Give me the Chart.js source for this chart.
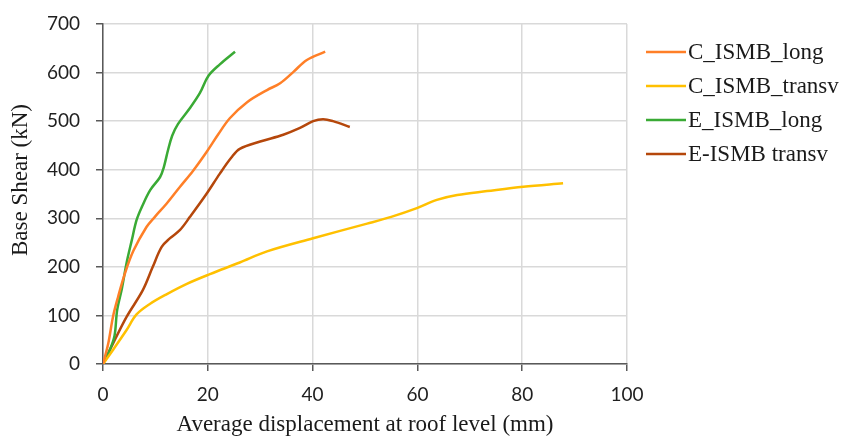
<!DOCTYPE html>
<html>
<head>
<meta charset="utf-8">
<script src="https://cdn.jsdelivr.net/npm/chart.js@4/dist/chart.umd.min.js"></script>
<style>
  html, body { margin: 0; padding: 0; background: #fff; }
  #wrap { width: 843px; height: 439px; position: relative; }
</style>
</head>
<body>
<div id="wrap"><canvas id="c" width="843" height="439"></canvas></div>
<script>
// Series labels
const seriesNames = ['C_ISMB_long', 'C_ISMB_transv', 'E_ISMB_long', 'E-ISMB transv'];

// C_ISMB_long: displacement (mm) and base shear (kN)
const cLongX = [0, 1, 1.9, 2.9, 4.2, 5.8, 8.3, 9.9, 12.2, 14.7, 17.2, 19.8, 22, 24.2, 27.5, 31.3, 33.8, 36.3, 38.9, 42.4];
const cLongY = [0, 42, 97, 139, 187, 233, 282, 303, 331, 365, 398, 437, 473, 506, 539, 564, 578, 601, 626, 643];

// C_ISMB_transv
const cTrX = [0, 1.9, 4.5, 6.4, 9, 12.2, 16, 20.4, 26.1, 31.3, 40.1, 50.4, 55, 59.9, 63.7, 67.6, 73.3, 80.2, 87.8];
const cTrY = [0, 29, 70, 102, 124, 144, 165, 185, 209, 232, 259, 289, 303, 321, 338, 348, 356, 365, 372];

// E_ISMB_long
const eLongX = [0, 1.3, 2.2, 2.7, 3.6, 4.5, 5.5, 6.4, 7.4, 9, 10.9, 11.6, 12.4, 13.2, 14.3, 16.6, 18.5, 20.1, 22.3, 25.2];
const eLongY = [0, 29, 58, 111, 155, 208, 255, 296, 323, 358, 385, 405, 440, 470, 494, 527, 558, 593, 617, 643];

// E-ISMB transv
const eTrX = [0, 1.9, 4.5, 7.6, 9.5, 11.2, 12.8, 14.7, 16.6, 19.8, 22.3, 24.5, 26.1, 30, 34.4, 37.6, 40.1, 42, 43.9, 47.1];
const eTrY = [0, 42, 97, 152, 200, 241, 259, 276, 303, 351, 392, 425, 443, 458, 472, 486, 500, 504, 500, 488];

// Axis ticks
const xTicks = [0, 20, 40, 60, 80, 100];
const yTicks = [0, 100, 200, 300, 400, 500, 600, 700];

const colors = ['#FF7F27', '#FFC000', '#3AAA35', '#B5470B'];
const serif = '"Liberation Serif", "Times New Roman", serif';

function pts(xs, ys) { return xs.map((x, i) => ({ x: x, y: ys[i] })); }
const seriesData = [pts(cLongX, cLongY), pts(cTrX, cTrY), pts(eLongX, eLongY), pts(eTrX, eTrY)];

const extrasPlugin = {
  id: 'extras',
  afterDraw(chart) {
    const ctx = chart.ctx;
    ctx.save();
    // legend
    chart.data.datasets.forEach((ds, i) => {
      const y = 52 + i * 34;
      ctx.strokeStyle = ds.borderColor;
      ctx.lineWidth = 2.5;
      ctx.beginPath();
      ctx.moveTo(646, y);
      ctx.lineTo(686, y);
      ctx.stroke();
      ctx.fillStyle = '#1a1a1a';
      ctx.font = '23px ' + serif;
      ctx.textBaseline = 'middle';
      ctx.textAlign = 'left';
      ctx.fillText(ds.label, 688, y + 1);
    });
    // y axis title
    ctx.translate(21, 180);
    ctx.rotate(-Math.PI / 2);
    ctx.font = '23px ' + serif;
    ctx.fillStyle = '#1a1a1a';
    ctx.textAlign = 'center';
    ctx.textBaseline = 'middle';
    ctx.fillText('Base Shear (kN)', 0, 0);
    ctx.restore();
  }
};

new Chart(document.getElementById('c'), {
  type: 'scatter',
  data: {
    datasets: seriesNames.map((n, i) => ({
      label: n,
      data: seriesData[i],
      showLine: true,
      borderColor: colors[i],
      backgroundColor: colors[i],
      borderWidth: 2.5,
      pointRadius: 0,
      tension: 0.35
    }))
  },
  options: {
    responsive: false,
    animation: false,
    layout: { padding: { left: 0, right: 216, top: 24, bottom: 0 } },
    plugins: {
      legend: { display: false },
      tooltip: { enabled: false }
    },
    scales: {
      x: {
        type: 'linear',
        min: 0, max: 100,
        afterBuildTicks(scale) { scale.ticks = xTicks.map(v => ({ value: v })); },
        afterFit(scale) { scale.height = 439 - 364; scale.paddingLeft = 0; scale.paddingRight = 0; },
        ticks: {
          color: '#1f1f1f',
          font: { family: 'Lato, "Open Sans", sans-serif', size: 19 },
          padding: 12
        },
        grid: { color: '#d9d9d9', lineWidth: 1.5, tickLength: 7, tickColor: '#595959', tickWidth: 1.5 },
        border: { color: '#595959', width: 1.5 },
        title: {
          display: true,
          text: 'Average displacement at roof level (mm)',
          color: '#1a1a1a',
          font: { family: serif, size: 23 },
          padding: { top: 0, bottom: 0 }
        }
      },
      y: {
        type: 'linear',
        min: 0, max: 700,
        afterBuildTicks(scale) { scale.ticks = yTicks.map(v => ({ value: v })); },
        afterFit(scale) { scale.width = 103; scale.paddingTop = 0; scale.paddingBottom = 0; },
        ticks: {
          color: '#1f1f1f',
          font: { family: 'Lato, "Open Sans", sans-serif', size: 19 },
          padding: 16
        },
        grid: { color: '#d9d9d9', lineWidth: 1.5, tickLength: 7, tickColor: '#595959', tickWidth: 1.5 },
        border: { color: '#595959', width: 1.5 },
        title: { display: false }
      }
    }
  },
  plugins: [extrasPlugin]
});
</script>
</body>
</html>
